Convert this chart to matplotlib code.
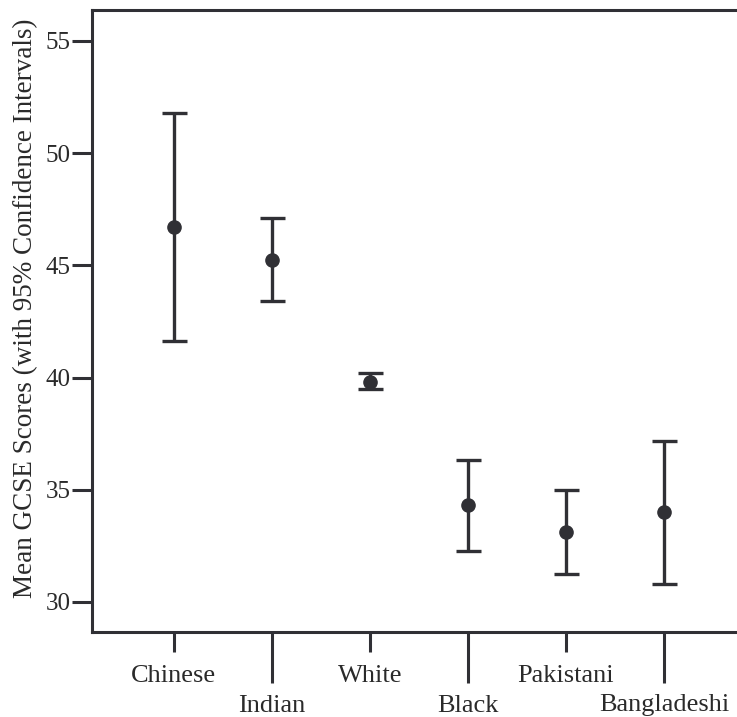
import matplotlib
matplotlib.use("Agg")
import matplotlib.pyplot as plt
import numpy as np

categories = ["Chinese", "Indian", "White", "Black", "Pakistani", "Bangladeshi"]
means = [46.69, 45.25, 39.82, 34.30, 33.10, 34.00]
upper = [51.77, 47.11, 40.20, 36.32, 34.97, 37.17]
lower = [41.62, 43.41, 39.50, 32.27, 31.23, 30.82]
yticks = [30, 35, 40, 45, 50, 55]

plt.rcParams['font.family'] = ['Liberation Serif', 'DejaVu Serif']
col = '#303035'
txt = '#2a2a2a'

W, H = 737, 717
fig = plt.figure(figsize=(W / 100, H / 100), dpi=100)
left_px, top_px, bottom_px = 92, 10, 632
xmin, xmax = -0.831, 5.831
px_per_unit = 98.1
width_px = (xmax - xmin) * px_per_unit
ax = fig.add_axes([left_px / W, 1 - bottom_px / H, width_px / W, (bottom_px - top_px) / H])

x = np.arange(len(categories))
m = np.array(means)
yerr = np.vstack([m - np.array(lower), np.array(upper) - m])
ax.errorbar(x, m, yerr=yerr, fmt='o', color=col, ecolor=col, elinewidth=2.4,
            capsize=9, capthick=2.4, markersize=9.5, zorder=3)

ax.set_xlim(xmin, xmax)
ax.set_ylim(28.66, 56.38)

for s in ['left', 'top', 'bottom']:
    ax.spines[s].set_linewidth(2.2)
    ax.spines[s].set_color(col)
ax.spines['right'].set_visible(False)

ax.set_yticks(yticks)
ax.set_yticklabels([str(v) for v in yticks])
ax.tick_params(axis='y', which='major', length=14.4, width=2.2, color=col,
               labelsize=18, labelcolor=txt, pad=1)

ax.set_xticks(x[0::2])
ax.set_xticklabels(categories[0::2])
ax.set_xticks(x[1::2], minor=True)
ax.set_xticklabels(categories[1::2], minor=True)
ax.tick_params(axis='x', which='major', length=14.4, width=2.2, color=col,
               labelsize=19, labelcolor=txt, pad=9)
ax.tick_params(axis='x', which='minor', length=36.5, width=2.2, color=col,
               labelsize=19, labelcolor=txt, pad=8.5)

ax.set_ylabel("Mean GCSE Scores (with 95% Confidence Intervals)", fontsize=19.5, color=txt)
ax.yaxis.set_label_coords((38 - left_px) / width_px, 0.52)

fig.savefig("out.png", dpi=100)
